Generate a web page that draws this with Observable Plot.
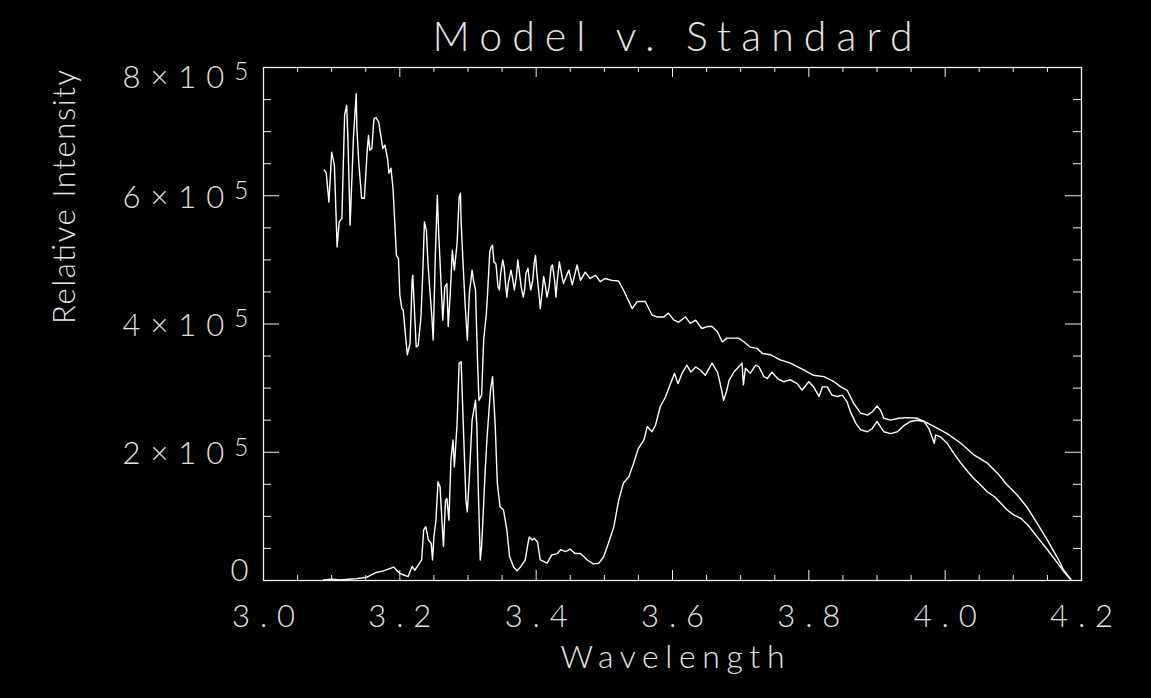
<!DOCTYPE html>
<html>
<head>
<meta charset="utf-8">
<script src="https://cdn.jsdelivr.net/npm/d3@7"></script>
<script src="https://cdn.jsdelivr.net/npm/@observablehq/plot@0.6"></script>
<style>
  html, body { margin: 0; padding: 0; background: #000; }
</style>
</head>
<body>
<script>
// ---- Data (intensity in units of 10^5) ----
const modelWavelength = [
  3.089,3.092,3.096,3.100,3.104,3.108,3.111,3.115,3.119,3.122,3.124,3.127,3.128,3.132,3.136,3.137,3.140,3.144,3.148,3.152,
  3.154,3.156,3.159,3.162,3.165,3.169,3.172,3.175,3.178,3.182,3.184,3.187,3.190,3.192,3.195,3.198,3.200,3.203,3.205,3.208,
  3.211,3.215,3.218,3.219,3.221,3.224,3.227,3.231,3.234,3.236,3.239,3.241,3.243,3.247,3.249,3.252,3.255,3.257,3.260,3.263,
  3.266,3.269,3.271,3.274,3.277,3.280,3.284,3.287,3.289,3.290,3.293,3.296,3.299,3.302,3.306,3.308,3.311,3.314,3.316,3.320,
  3.323,3.327,3.329,3.332,3.334,3.336,3.338,3.341,3.344,3.346,3.348,3.351,3.353,3.355,3.357,3.359,3.363,3.365,3.368,3.371,
  3.373,3.375,3.378,3.381,3.383,3.385,3.388,3.390,3.392,3.395,3.397,3.399,3.401,3.404,3.406,3.409,3.411,3.413,3.416,3.419,
  3.422,3.424,3.427,3.429,3.431,3.434,3.440,3.448,3.453,3.460,3.465,3.472,3.479,3.487,3.494,3.501,3.511,3.521,3.528,3.536,
  3.541,3.548,3.560,3.570,3.577,3.587,3.594,3.602,3.609,3.619,3.626,3.634,3.643,3.651,3.658,3.666,3.673,3.680,3.697,3.705,
  3.714,3.724,3.732,3.744,3.758,3.773,3.793,3.807,3.822,3.837,3.847,3.856,3.866,3.876,3.886,3.893,3.900,3.905,3.910,3.920,
  3.932,3.945,3.959,3.969,3.984,4.003,4.023,4.042,4.062,4.077,4.091,4.106,4.121,4.135,4.150,4.165,4.174,4.184
];
const modelIntensity = [
  6.40,6.36,5.90,6.68,6.48,5.20,5.59,5.65,7.26,7.41,6.84,5.54,5.80,6.92,7.59,7.05,6.48,5.96,5.96,6.68,
  6.94,6.71,6.74,7.20,7.22,7.15,6.94,6.74,6.79,6.58,6.35,6.43,6.11,5.70,5.07,5.02,4.45,4.24,4.22,3.85,
  3.52,3.70,4.68,4.76,4.32,3.64,3.67,4.11,4.89,5.59,5.46,4.99,4.68,4.11,3.75,5.05,6.01,5.41,4.74,4.06,
  4.58,4.63,3.96,4.48,5.15,4.84,5.26,5.98,6.04,5.57,4.89,4.27,3.75,4.48,4.84,4.68,4.53,3.44,2.81,2.89,
  3.75,4.17,4.53,5.13,5.20,5.23,4.97,4.94,4.58,4.53,4.79,5.00,4.89,4.63,4.42,4.63,4.84,4.74,4.53,4.74,
  5.00,4.84,4.58,4.42,4.53,4.79,4.87,4.68,4.53,4.68,4.94,5.07,4.79,4.48,4.24,4.53,4.74,4.63,4.42,4.58,
  4.89,4.92,4.68,4.42,4.68,4.97,4.63,4.84,4.61,4.92,4.68,4.81,4.71,4.76,4.66,4.71,4.68,4.67,4.53,4.35,
  4.24,4.35,4.35,4.14,4.11,4.11,4.17,4.06,4.03,4.11,4.01,4.06,3.93,3.96,3.96,3.88,3.72,3.78,3.78,3.72,
  3.64,3.62,3.54,3.52,3.44,3.39,3.28,3.20,3.18,3.10,3.02,2.97,2.76,2.61,2.58,2.63,2.72,2.66,2.53,2.50,
  2.53,2.54,2.53,2.48,2.40,2.29,2.14,1.96,1.83,1.67,1.49,1.33,1.13,0.89,0.63,0.35,0.16,0.02
];
const standardWavelength = [
  3.088,3.100,3.112,3.125,3.137,3.151,3.164,3.176,3.186,3.191,3.196,3.200,3.205,3.212,3.218,3.222,3.227,3.232,3.235,3.238,
  3.242,3.246,3.248,3.250,3.253,3.256,3.259,3.262,3.264,3.267,3.269,3.272,3.275,3.278,3.280,3.284,3.287,3.290,3.293,3.297,
  3.299,3.302,3.306,3.311,3.313,3.315,3.318,3.320,3.323,3.325,3.328,3.333,3.336,3.340,3.343,3.347,3.352,3.357,3.361,3.367,
  3.372,3.377,3.384,3.388,3.390,3.394,3.397,3.402,3.406,3.416,3.423,3.431,3.436,3.443,3.450,3.457,3.465,3.475,3.484,3.492,
  3.499,3.506,3.514,3.521,3.528,3.536,3.543,3.550,3.558,3.563,3.570,3.575,3.577,3.582,3.590,3.597,3.603,3.608,3.614,3.621,
  3.627,3.634,3.641,3.648,3.658,3.666,3.670,3.675,3.679,3.683,3.690,3.697,3.702,3.704,3.707,3.714,3.722,3.727,3.734,3.739,
  3.746,3.754,3.763,3.773,3.783,3.790,3.800,3.807,3.815,3.820,3.827,3.834,3.842,3.849,3.856,3.861,3.869,3.876,3.886,3.893,
  3.900,3.905,3.910,3.920,3.930,3.940,3.949,3.959,3.969,3.976,3.979,3.984,3.986,3.993,4.003,4.013,4.023,4.033,4.042,4.052,
  4.062,4.072,4.082,4.091,4.101,4.111,4.121,4.135,4.150,4.165,4.174,4.184
];
const standardIntensity = [
  0.01,0.02,0.01,0.02,0.03,0.05,0.12,0.15,0.19,0.21,0.15,0.11,0.09,0.06,0.22,0.16,0.24,0.32,0.79,0.84,
  0.63,0.58,0.32,0.68,0.94,1.54,1.46,0.89,0.53,1.25,1.28,0.94,1.88,2.19,1.77,2.45,3.39,3.41,2.45,1.25,
  1.07,1.62,2.50,2.81,2.40,1.46,0.32,0.53,1.20,1.67,2.24,2.97,3.18,2.40,1.52,1.15,1.10,0.79,0.37,0.21,
  0.15,0.21,0.32,0.58,0.68,0.63,0.66,0.60,0.32,0.27,0.40,0.42,0.48,0.45,0.49,0.42,0.42,0.32,0.26,0.27,
  0.37,0.58,0.84,1.25,1.52,1.62,1.83,2.06,2.19,2.40,2.32,2.42,2.50,2.71,2.87,3.07,3.23,3.07,3.23,3.36,
  3.25,3.33,3.28,3.20,3.39,3.25,3.07,2.81,2.94,3.12,3.25,3.33,3.39,3.05,3.31,3.23,3.36,3.33,3.18,3.15,
  3.25,3.15,3.10,3.13,3.07,2.97,3.10,3.02,2.87,3.02,3.02,2.89,2.87,2.89,2.79,2.63,2.45,2.35,2.32,2.37,
  2.48,2.40,2.32,2.29,2.32,2.42,2.48,2.50,2.48,2.37,2.29,2.14,2.27,2.24,2.14,1.98,1.83,1.70,1.59,1.49,
  1.38,1.31,1.20,1.10,1.02,0.97,0.87,0.68,0.48,0.27,0.14,0.02
];

const xTickValues = [3.0, 3.2, 3.4, 3.6, 3.8, 4.0, 4.2];
const xTickLabels = ["3.0", "3.2", "3.4", "3.6", "3.8", "4.0", "4.2"];
const xMinorTicks = [3.05,3.1,3.15,3.25,3.3,3.35,3.45,3.5,3.55,3.65,3.7,3.75,3.85,3.9,3.95,4.05,4.1,4.15];
const yTickValues = [0, 2e5, 4e5, 6e5, 8e5];
const yTickLabels = ["0", "2×10⁵", "4×10⁵", "6×10⁵", "8×10⁵"];
const yMinorTicks = [0.5e5,1e5,1.5e5,2.5e5,3e5,3.5e5,4.5e5,5e5,5.5e5,6.5e5,7e5,7.5e5];

const titleText = "Model v. Standard";
const xLabelText = "Wavelength";
const yLabelText = "Relative Intensity";

// ---- Build table ----
const rows = [];
modelWavelength.forEach((w, i) => rows.push({series: "Model", wl: w, v: modelIntensity[i] * 1e5}));
standardWavelength.forEach((w, i) => rows.push({series: "Standard", wl: w, v: standardIntensity[i] * 1e5}));

// ---- Layout ----
const W = 1151, H = 698;
const mL = 263, mR = 70, mT = 67, mB = 118;
const FW = W - mL - mR, FH = H - mT - mB;
const TXT = "#e4e4e4";
const AX = "#f0f0f0";
const FONT = "Lato, 'DejaVu Sans', sans-serif";

const yTicksMid = yTickValues.slice(1, 4).map((v, i) => ({v, t: yTickLabels[i + 1]}));
const yTickBottom = [{v: yTickValues[0], t: yTickLabels[0]}];
const yTickTop = [{v: yTickValues[4], t: yTickLabels[4]}];
const xTicks = xTickValues.map((v, i) => ({v, t: xTickLabels[i]}));

const chart = Plot.plot({
  width: W, height: H,
  marginLeft: mL, marginRight: mR, marginTop: mT, marginBottom: mB,
  style: {background: "#000", color: TXT, fontFamily: FONT, fontWeight: 300},
  x: {domain: [3.0, 4.2], axis: null},
  y: {domain: [0, 8e5], axis: null},
  marks: [
    Plot.frame({stroke: AX, strokeWidth: 1.3}),
    // bottom ticks
    Plot.tickX(xTickValues, {x: d => d, stroke: AX, insetTop: FH - 10}),
    Plot.tickX(xMinorTicks, {x: d => d, stroke: AX, insetTop: FH - 5}),
    // top ticks
    Plot.tickX(xTickValues, {x: d => d, stroke: AX, insetBottom: FH - 10}),
    Plot.tickX(xMinorTicks, {x: d => d, stroke: AX, insetBottom: FH - 5}),
    // left ticks
    Plot.tickY(yTickValues, {y: d => d, stroke: AX, insetRight: FW - 16}),
    Plot.tickY(yMinorTicks, {y: d => d, stroke: AX, insetRight: FW - 8}),
    // right ticks
    Plot.tickY(yTickValues, {y: d => d, stroke: AX, insetLeft: FW - 16}),
    Plot.tickY(yMinorTicks, {y: d => d, stroke: AX, insetLeft: FW - 8}),
    // data
    Plot.line(rows, {x: "wl", y: "v", z: "series", stroke: "#ffffff", strokeWidth: 1.4}),
    // tick labels
    Plot.text(xTicks, {x: "v", text: "t", frameAnchor: "bottom", lineAnchor: "middle", dy: 37, fontSize: 31, fill: TXT, ariaDescription: "xticklabels"}),
    Plot.text(yTicksMid, {y: "v", text: "t", frameAnchor: "left", lineAnchor: "middle", dx: -15, dy: 2, textAnchor: "end", fontSize: 31, fill: TXT, ariaDescription: "yticklabels"}),
    Plot.text(yTickBottom, {y: "v", text: "t", frameAnchor: "left", lineAnchor: "middle", dx: -15, dy: -9, textAnchor: "end", fontSize: 31, fill: TXT, ariaDescription: "yticklabels"}),
    Plot.text(yTickTop, {y: "v", text: "t", frameAnchor: "left", lineAnchor: "middle", dx: -15, dy: 11, textAnchor: "end", fontSize: 31, fill: TXT, ariaDescription: "yticklabels"}),
    // titles
    Plot.text([titleText], {text: d => d, frameAnchor: "top", lineAnchor: "middle", dy: -30, fontSize: 41, fill: TXT, ariaDescription: "title"}),
    Plot.text([xLabelText], {text: d => d, frameAnchor: "bottom", lineAnchor: "middle", dy: 77, fontSize: 32, fill: TXT, ariaDescription: "xlabel"}),
    Plot.text([yLabelText], {text: d => d, frameAnchor: "left", lineAnchor: "middle", dx: -198, rotate: -90, fontSize: 31, fill: TXT, ariaDescription: "ylabel"})
  ]
});
document.body.appendChild(chart);

// widen text like the original vector font, and raise the exponent
const svg = d3.select(chart);
function spread(desc, fn) {
  svg.selectAll(`g[aria-description="${desc}"] text`).each(function() {
    const el = d3.select(this);
    const txt = el.text();
    if (txt.includes("⁵")) {
      el.text(txt.replace("⁵", ""));
      el.append("tspan").attr("dy", "-0.35em").attr("font-size", "0.8em").text("5");
    }
    const len = fn(txt);
    if (len) el.attr("textLength", len).attr("lengthAdjust", "spacing");
  });
}
spread("title", () => 480);
spread("xlabel", () => 224);
spread("ylabel", () => 254);
spread("xticklabels", () => 63);
spread("yticklabels", t => t.length > 1 ? 126 : null);
</script>
</body>
</html>
